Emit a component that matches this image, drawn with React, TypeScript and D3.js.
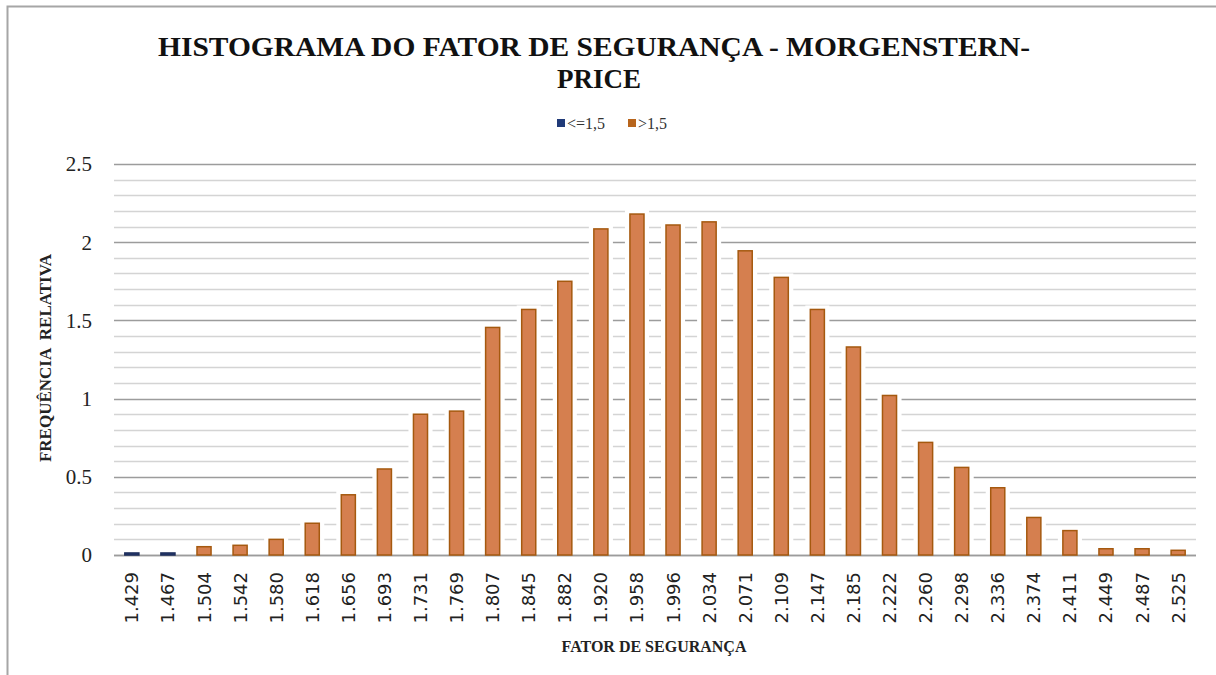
import React, { useEffect, useRef } from "react";
import { select, scaleBand, scaleLinear, range } from "d3";

const categories = [
  "1.429", "1.467", "1.504", "1.542", "1.580", "1.618", "1.656", "1.693", "1.731", "1.769",
  "1.807", "1.845", "1.882", "1.920", "1.958", "1.996", "2.034", "2.071", "2.109", "2.147",
  "2.185", "2.222", "2.260", "2.298", "2.336", "2.374", "2.411", "2.449", "2.487", "2.525",
];

// frequência relativa por classe
const values = [
  0.013, 0.013, 0.053, 0.062, 0.1, 0.203, 0.385, 0.55, 0.9, 0.92,
  1.455, 1.57, 1.75, 2.085, 2.18, 2.11, 2.13, 1.945, 1.775, 1.57,
  1.33, 1.02, 0.72, 0.56, 0.43, 0.24, 0.156, 0.04, 0.04, 0.03,
];

const yTicks = [0, 0.5, 1, 1.5, 2, 2.5];
const limit = 1.5;
const seriesNames = ["<=1,5", ">1,5"];

function App() {
  const svgRef = useRef<SVGSVGElement>(null);

  const width = 1216;
  const height = 675;
  const margin = { top: 164, bottom: 120, left: 114, right: 20 };
  const plotBottom = 555;
  const plotRight = 1196;

  useEffect(() => {
    const svg = select(svgRef.current);
    svg.selectAll("*").remove();

    const xScale = scaleBand()
      .domain(categories)
      .range([margin.left, plotRight])
      .paddingInner(0.61)
      .paddingOuter(0.3);

    const yScale = scaleLinear().domain([0, 2.5]).range([plotBottom, margin.top]);

    const colorFill = (v: string) => (parseFloat(v) <= limit ? "#2a3f78" : "#d57f4f");
    const colorStroke = (v: string) => (parseFloat(v) <= limit ? "#1d2d5a" : "#a5590f");

    // outer frame
    svg.append("path")
      .attr("d", `M7.5,${height} V6.5 H${width}`)
      .attr("fill", "none")
      .attr("stroke", "#a6a6a6")
      .attr("stroke-width", 2);

    // gridlines
    const minor = range(0, 26).map((i) => i / 10);
    svg.append("g")
      .selectAll("line")
      .data(minor)
      .join("line")
      .attr("x1", margin.left)
      .attr("x2", plotRight)
      .attr("y1", (d) => Math.round(yScale(d)) + 0.5)
      .attr("y2", (d) => Math.round(yScale(d)) + 0.5)
      .attr("stroke", (d) => (Math.abs((d * 2) % 1) < 1e-6 ? "#9c9c9c" : "#d4d4d4"))
      .attr("stroke-width", 1.5);

    const data = categories.map((c, i) => ({ c, v: values[i] }));

    // white halo behind bars
    svg.append("g")
      .selectAll("rect")
      .data(data)
      .join("rect")
      .attr("x", (d) => (xScale(d.c) as number) - 5)
      .attr("width", xScale.bandwidth() + 10)
      .attr("y", (d) => yScale(d.v) - 4)
      .attr("height", (d) => plotBottom - yScale(d.v) + 3)
      .attr("fill", "#ffffff");

    // baseline
    svg.append("line")
      .attr("x1", margin.left)
      .attr("x2", plotRight)
      .attr("y1", plotBottom + 0.5)
      .attr("y2", plotBottom + 0.5)
      .attr("stroke", "#9c9c9c")
      .attr("stroke-width", 1.5);

    svg.append("g")
      .selectAll("rect")
      .data(data)
      .join("rect")
      .attr("x", (d) => xScale(d.c) as number)
      .attr("width", xScale.bandwidth())
      .attr("y", (d) => yScale(d.v))
      .attr("height", (d) => plotBottom - yScale(d.v))
      .attr("fill", (d) => colorFill(d.c))
      .attr("stroke", (d) => colorStroke(d.c))
      .attr("stroke-width", 1.5);

    // y tick labels
    svg.append("g")
      .selectAll("text")
      .data(yTicks)
      .join("text")
      .attr("x", 92)
      .attr("y", (d) => yScale(d))
      .attr("dy", "0.35em")
      .attr("text-anchor", "end")
      .attr("font-family", "Liberation Serif, serif")
      .attr("font-size", 21)
      .attr("fill", "#222")
      .text((d) => String(d));

    // x tick labels (rotated)
    svg.append("g")
      .selectAll("text")
      .data(categories)
      .join("text")
      .attr("transform", (d) => `translate(${(xScale(d) as number) + xScale.bandwidth() / 2},572) rotate(-90)`)
      .attr("dy", "0.36em")
      .attr("text-anchor", "end")
      .attr("font-family", "DejaVu Sans, sans-serif")
      .attr("font-size", 18)
      .attr("fill", "#222")
      .text((d) => d);

    // axis titles
    svg.append("text")
      .attr("x", 654)
      .attr("y", 652)
      .attr("text-anchor", "middle")
      .attr("font-family", "Liberation Serif, serif")
      .attr("font-weight", "bold")
      .attr("font-size", 16)
      .attr("fill", "#222")
      .text("FATOR DE SEGURANÇA");

    svg.append("text")
      .attr("transform", "translate(45,358) rotate(-90)")
      .attr("dy", "0.35em")
      .attr("text-anchor", "middle")
      .attr("font-family", "Liberation Serif, serif")
      .attr("font-weight", "bold")
      .attr("font-size", 17)
      .attr("fill", "#222")
      .style("white-space", "pre")
      .text("FREQUÊNCIA  RELATIVA");

    // title
    const title = svg.append("g")
      .attr("font-family", "Liberation Serif, serif")
      .attr("font-weight", "bold")
      .attr("font-size", 27)
      .attr("fill", "#111");
    title.append("text")
      .attr("x", 158)
      .attr("y", 56)
      .attr("textLength", 872)
      .attr("lengthAdjust", "spacingAndGlyphs")
      .text("HISTOGRAMA DO FATOR DE SEGURANÇA - MORGENSTERN-");
    title.append("text")
      .attr("x", 557)
      .attr("y", 88)
      .attr("textLength", 84)
      .attr("lengthAdjust", "spacingAndGlyphs")
      .text("PRICE");

    // legend
    const legend = svg.append("g")
      .attr("font-family", "Liberation Serif, serif")
      .attr("font-size", 16)
      .attr("fill", "#333");
    const legendX = [557, 628];
    seriesNames.forEach((name, i) => {
      legend.append("rect")
        .attr("x", legendX[i])
        .attr("y", 119)
        .attr("width", 8)
        .attr("height", 8)
        .attr("fill", i === 0 ? "#203a78" : "#b8651c");
      legend.append("text")
        .attr("x", legendX[i] + 10)
        .attr("y", 129)
        .text(name);
    });
  }, []);

  return (
    <svg
      ref={svgRef}
      width={width}
      height={height}
      style={{ position: "absolute", left: 0, top: 0, background: "#fff" }}
    />
  );
}

export default App;
